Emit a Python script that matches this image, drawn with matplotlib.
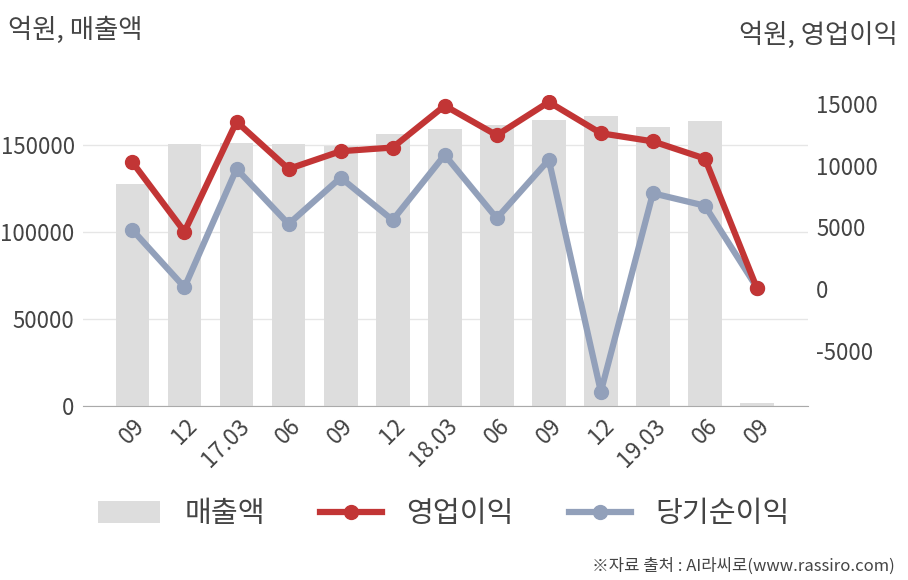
import matplotlib
matplotlib.use("Agg")
import matplotlib.pyplot as plt
from matplotlib.patches import Patch
from matplotlib.lines import Line2D

plt.rcParams['font.family'] = ['Noto Sans CJK KR', 'DejaVu Sans']

categories = ["09", "12", "17.03", "06", "09", "12", "18.03", "06", "09", "12", "19.03", "06", "09"]
revenue = [127600, 150600, 151300, 150400, 149500, 156300, 159000, 161500, 164400, 166700, 160300, 163800, 1700]
op_income = [10300, 4660, 13600, 9760, 11200, 11500, 14900, 12500, 15200, 12660, 12000, 10600, 50]
net_income = [4800, 140, 9760, 5280, 9050, 5600, 10900, 5750, 10500, -8350, 7780, 6770, 100]

bar_color = "#dddddd"
red = "#c23535"
blue = "#92a0ba"
txt = "#444444"

fig = plt.figure(figsize=(9.08, 5.8), dpi=100)
ax = fig.add_axes([83/908, 1-406/580, (808-83)/908, (406-95)/580])
ax2 = ax.twinx()

x = list(range(len(categories)))
ax.bar(x, revenue, width=0.65, color=bar_color, zorder=2)
ax.set_ylim(0, 178700)
ax.set_yticks([0, 50000, 100000, 150000])
ax.set_yticklabels(["0", "50000", "100000", "150000"])
ax.set_xlim(-0.95, 12.98)
ax.grid(axis='y', color="#e6e6e6", linewidth=1, zorder=0)
ax.set_axisbelow(True)
for s in ["left", "right", "top"]:
    ax.spines[s].set_visible(False)
    ax2.spines[s].set_visible(False)
ax2.spines["bottom"].set_visible(False)
ax.spines["bottom"].set_color("#aaaaaa")
ax.tick_params(axis='y', length=0, pad=6, labelsize=16, labelcolor=txt)
ax.tick_params(axis='x', length=0, pad=6, labelsize=16.5, labelcolor=txt)
ax.set_xticks(x)
ax.set_xticklabels(categories, rotation=45, ha='right', rotation_mode='anchor')
for lab in ax.get_xticklabels():
    lab.set_transform(lab.get_transform() + matplotlib.transforms.ScaledTranslation(1/100, 0, fig.dpi_scale_trans))

ax2.plot(x, net_income, color=blue, linewidth=4.5, marker='o', markersize=10, zorder=3)
ax2.plot(x, op_income, color=red, linewidth=4.5, marker='o', markersize=10, zorder=4)
ax2.set_ylim(-9510, 15770)
ax2.set_yticks([-5000, 0, 5000, 10000, 15000])
ax2.set_yticklabels(["-5000", "0", "5000", "10000", "15000"])
ax2.tick_params(axis='y', length=0, pad=6, labelsize=16, labelcolor=txt)

fig.text(8/908, 1-30/580, "억원, 매출액", fontsize=19, color=txt, va='center', ha='left')
fig.text(898/908, 1-35/580, "억원, 영업이익", fontsize=19, color=txt, va='center', ha='right')
fig.text(895/908, 1-566/580, "※자료 출처 : AI라씨로(www.rassiro.com)", fontsize=12, color=txt, va='center', ha='right')

handles = [Patch(facecolor=bar_color, edgecolor='none'),
           Line2D([0], [0], color=red, linewidth=4.5, marker='o', markersize=10),
           Line2D([0], [0], color=blue, linewidth=4.5, marker='o', markersize=10)]
labels = ["매출액", "영업이익", "당기순이익"]
fig.legend(handles, labels, loc='center', bbox_to_anchor=(444/908, 1-514/580), ncol=3,
           frameon=False, fontsize=21, labelcolor=txt, handlelength=2.1, handleheight=0.75,
           columnspacing=1.9, handletextpad=0.85)

fig.savefig("out.png", dpi=100)
